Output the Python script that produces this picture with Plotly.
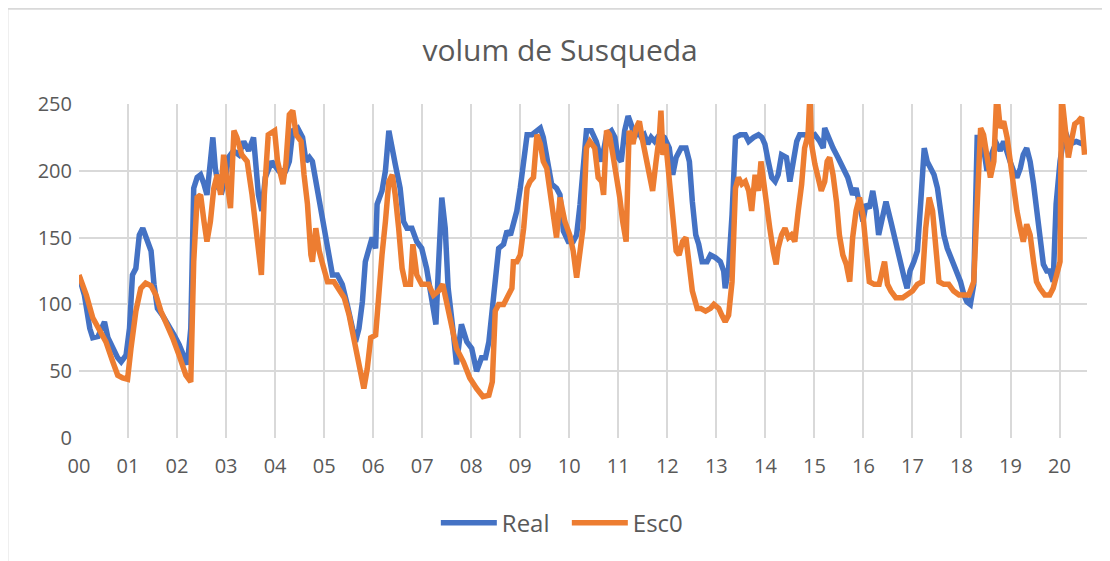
import plotly.graph_objs as go

# time position (tick units) and value for each series
real_t = [0.00, 0.11, 0.22, 0.28, 0.39, 0.52, 0.59, 0.69, 0.79, 0.86, 0.96, 1.03, 1.09, 1.16, 1.23,
          1.30, 1.38, 1.47, 1.53, 1.60, 1.70, 1.84, 1.94, 2.04, 2.14, 2.21, 2.28, 2.34, 2.41, 2.48,
          2.55, 2.61, 2.68, 2.73, 2.78, 2.85, 2.92, 2.99, 3.05, 3.15, 3.26, 3.36, 3.46, 3.56, 3.66,
          3.73, 3.80, 3.93, 4.07, 4.22, 4.29, 4.36, 4.46, 4.56, 4.63, 4.70, 4.76, 4.83, 4.90, 4.97,
          5.03, 5.10, 5.17, 5.27, 5.37, 5.47, 5.57, 5.64, 5.71, 5.78, 5.84, 5.91, 5.98, 6.05, 6.08,
          6.18, 6.25, 6.32, 6.39, 6.45, 6.55, 6.62, 6.69, 6.79, 6.89, 6.99, 7.09, 7.16, 7.23, 7.28,
          7.33, 7.40, 7.47, 7.53, 7.64, 7.70, 7.80, 7.91, 8.01, 8.11, 8.21, 8.29, 8.36, 8.43, 8.49,
          8.56, 8.66, 8.73, 8.80, 8.86, 8.93, 9.00, 9.07, 9.14, 9.24, 9.34, 9.41, 9.47, 9.54, 9.64,
          9.74, 9.81, 9.88, 9.98, 10.08, 10.15, 10.22, 10.30, 10.35, 10.45, 10.55, 10.66, 10.76,
          10.86, 10.93, 10.99, 11.06, 11.13, 11.20, 11.26, 11.33, 11.40, 11.47, 11.53, 11.60, 11.67,
          11.74, 11.84, 11.94, 12.04, 12.11, 12.18, 12.28, 12.38, 12.45, 12.51, 12.58, 12.64, 12.71,
          12.81, 12.88, 12.98, 13.08, 13.15, 13.18, 13.25, 13.32, 13.39, 13.49, 13.59, 13.66, 13.76,
          13.86, 13.93, 13.99, 14.06, 14.13, 14.20, 14.26, 14.33, 14.43, 14.50, 14.57, 14.64, 14.70,
          14.80, 14.91, 15.01, 15.11, 15.18, 15.21, 15.28, 15.38, 15.48, 15.58, 15.68, 15.78, 15.85,
          15.92, 15.99, 16.05, 16.12, 16.19, 16.26, 16.31, 16.39, 16.46, 16.56, 16.63, 16.70, 16.76,
          16.83, 16.89, 16.95, 17.03, 17.10, 17.17, 17.24, 17.30, 17.37, 17.44, 17.51, 17.57, 17.64,
          17.71, 17.81, 17.91, 17.98, 18.05, 18.11, 18.18, 18.25, 18.32, 18.39, 18.45, 18.52, 18.59,
          18.66, 18.72, 18.79, 18.86, 18.93, 18.99, 19.06, 19.13, 19.20, 19.26, 19.33, 19.40, 19.47,
          19.53, 19.60, 19.67, 19.74, 19.80, 19.87, 19.93, 20.01, 20.11, 20.21, 20.34, 20.48]
real_v = [121, 107, 82, 75, 76, 87, 75, 67, 60, 57, 62, 82, 122, 127, 152,
          157, 150, 140, 115, 97, 92, 82, 77, 70, 62, 55, 82, 187, 195, 197,
          190, 182, 207, 225, 202, 187, 185, 195, 210, 215, 212, 222, 215, 225, 182,
          170, 195, 207, 200, 200, 207, 230, 232, 225, 207, 210, 207, 192, 180, 165,
          147, 132, 122, 122, 115, 100, 82, 72, 82, 102, 132, 140, 150, 142, 175,
          185, 200, 230, 215, 205, 187, 162, 157, 157, 147, 142, 127, 112, 95, 85,
          127, 180, 157, 112, 77, 55, 85, 72, 67, 50, 60, 60, 72, 97, 127,
          142, 145, 155, 152, 160, 170, 187, 207, 227, 227, 230, 232, 225, 210, 190,
          187, 182, 155, 147, 147, 152, 175, 207, 230, 230, 222, 207, 227,
          230, 225, 210, 207, 230, 241, 235, 225, 230, 225, 227, 220, 225,
          222, 227, 225, 217, 197, 210, 217, 217, 207, 177, 152, 145, 132,
          132, 137, 135, 132, 125, 112, 127, 167, 225, 227, 227, 222, 225,
          227, 225, 220, 207, 195, 192, 197, 212, 210, 192, 207, 222, 227,
          227, 225, 227, 222, 217, 232, 225, 217, 210, 202, 195, 182, 187,
          175, 162, 175, 172, 185, 170, 152, 167, 177, 162, 150, 140, 130,
          120, 112, 125, 132, 140, 177, 217, 207, 202, 197, 187, 170, 152,
          142, 132, 125, 117, 107, 102, 100, 115, 225, 225, 217, 200, 210,
          217, 220, 215, 222, 212, 207, 200, 195, 202, 212, 217, 207, 190,
          170, 150, 130, 125, 125, 117, 175, 207, 230, 220, 222, 220]

esc_t = [0.00, 0.15, 0.28, 0.42, 0.55, 0.69, 0.79, 0.89, 0.99, 1.06, 1.16, 1.26, 1.36, 1.47, 1.57,
         1.67, 1.77, 1.91, 2.04, 2.18, 2.28, 2.34, 2.41, 2.48, 2.55, 2.61, 2.68, 2.75, 2.82, 2.89,
         2.95, 3.02, 3.09, 3.16, 3.22, 3.32, 3.43, 3.53, 3.63, 3.72, 3.78, 3.86, 3.99, 4.05, 4.16,
         4.22, 4.29, 4.36, 4.43, 4.53, 4.59, 4.66, 4.73, 4.76, 4.83, 4.90, 4.97, 5.07, 5.20, 5.30,
         5.41, 5.51, 5.61, 5.71, 5.81, 5.88, 5.95, 6.05, 6.11, 6.18, 6.25, 6.32, 6.39, 6.45, 6.52,
         6.59, 6.66, 6.76, 6.81, 6.89, 6.99, 7.13, 7.23, 7.33, 7.42, 7.50, 7.60, 7.70, 7.84, 7.97,
         8.11, 8.24, 8.36, 8.43, 8.49, 8.56, 8.66, 8.76, 8.83, 8.86, 8.93, 9.00, 9.07, 9.14, 9.20,
         9.27, 9.34, 9.41, 9.47, 9.54, 9.61, 9.68, 9.74, 9.81, 9.91, 10.01, 10.08, 10.15, 10.22,
         10.28, 10.35, 10.42, 10.52, 10.59, 10.66, 10.70, 10.76, 10.82, 10.89, 10.96, 11.03, 11.09,
         11.16, 11.22, 11.30, 11.36, 11.43, 11.50, 11.57, 11.64, 11.70, 11.77, 11.84, 11.87, 11.91,
         11.97, 12.04, 12.11, 12.18, 12.24, 12.31, 12.38, 12.45, 12.51, 12.61, 12.68, 12.78, 12.88,
         12.95, 13.05, 13.11, 13.18, 13.25, 13.32, 13.39, 13.45, 13.52, 13.59, 13.66, 13.72, 13.79,
         13.86, 13.91, 13.96, 14.03, 14.09, 14.16, 14.22, 14.26, 14.33, 14.40, 14.47, 14.53, 14.60,
         14.67, 14.74, 14.80, 14.87, 14.91, 14.94, 15.01, 15.07, 15.14, 15.21, 15.26, 15.31, 15.38,
         15.45, 15.51, 15.58, 15.65, 15.72, 15.78, 15.85, 15.92, 15.99, 16.05, 16.12, 16.22, 16.32,
         16.43, 16.49, 16.56, 16.66, 16.80, 16.90, 17.00, 17.10, 17.20, 17.27, 17.34, 17.41, 17.47,
         17.54, 17.64, 17.74, 17.84, 17.95, 18.05, 18.15, 18.25, 18.32, 18.39, 18.45, 18.52, 18.59,
         18.66, 18.72, 18.79, 18.86, 18.93, 18.99, 19.06, 19.13, 19.20, 19.26, 19.33, 19.40, 19.47,
         19.53, 19.60, 19.70, 19.80, 19.87, 19.94, 20.01, 20.04, 20.11, 20.18, 20.24, 20.31, 20.38,
         20.45, 20.51]
esc_v = [122, 107, 90, 80, 72, 57, 47, 45, 44, 67, 95, 112, 116, 114, 107,
         95, 87, 75, 62, 47, 42, 132, 180, 182, 162, 147, 162, 187, 197, 182,
         212, 195, 172, 230, 225, 212, 207, 182, 145, 122, 182, 227, 230, 207, 190,
         205, 242, 245, 227, 222, 197, 175, 137, 132, 157, 140, 130, 117, 117, 112,
         105, 92, 72, 52, 37, 52, 75, 77, 107, 137, 162, 192, 197, 182, 157,
         127, 115, 115, 145, 122, 115, 115, 107, 110, 115, 102, 82, 67, 57, 45,
         37, 31, 32, 42, 95, 100, 100, 107, 112, 132, 132, 137, 157, 187, 192,
         195, 227, 220, 207, 202, 182, 167, 150, 180, 162, 152, 140, 120, 140,
         157, 217, 222, 217, 195, 192, 182, 230, 227, 212, 197, 180, 162,
         147, 230, 220, 232, 237, 222, 207, 195, 185, 207, 227, 245, 212,
         220, 195, 170, 140, 137, 147, 150, 132, 110, 97, 97, 95, 97,
         100, 97, 92, 87, 92, 117, 187, 195, 190, 192, 185, 170, 197,
         185, 207, 195, 175, 157, 140, 130, 142, 152, 157, 150, 152, 147,
         170, 190, 217, 227, 258, 220, 205, 197, 185, 192, 207, 210, 197,
         177, 152, 137, 130, 117, 150, 170, 180, 167, 147, 117, 115, 115,
         132, 115, 110, 105, 105, 107, 110, 115, 117, 157, 180, 170, 145,
         117, 115, 115, 110, 107, 107, 107, 117, 182, 232, 227, 207, 195,
         207, 258, 232, 237, 225, 207, 187, 170, 157, 147, 160, 152, 132,
         117, 112, 107, 107, 112, 122, 132, 258, 232, 210, 222, 235, 237,
         240, 212]

tick_vals = list(range(21))
tick_text = ['%02d' % i for i in tick_vals]

text_grey = '#595959'
grid_grey = '#D9D9D9'

fig = go.Figure()
fig.add_trace(go.Scatter(x=real_t, y=real_v, name='Real', mode='lines',
                         line=dict(color='#4472C4', width=5.5)))
fig.add_trace(go.Scatter(x=esc_t, y=esc_v, name='Esc0', mode='lines',
                         line=dict(color='#ED7D31', width=5.5)))

# chart frame (top and left edge, like the excel chart area)
fig.add_shape(type='line', xref='paper', yref='paper', x0=-0.071, x1=1.05, y0=1.285, y1=1.285,
              line=dict(color=grid_grey, width=2))
fig.add_shape(type='line', xref='paper', yref='paper', x0=-0.071, x1=-0.071, y0=1.285, y1=-0.4,
              line=dict(color=grid_grey, width=2))

# the page body adds an 8px offset, so the figure is 8px smaller than the window
fig.update_layout(
    width=1102, height=553,
    margin=dict(l=71, r=23, t=96, b=123),
    paper_bgcolor='white', plot_bgcolor='white',
    font=dict(family='Open Sans', color=text_grey, size=19),
    title=dict(text='volum de Susqueda', x=0.501, xanchor='center', y=0.923, yanchor='middle',
               font=dict(size=30, color=text_grey)),
    showlegend=True,
    legend=dict(orientation='h', x=0.354, xanchor='left', y=-0.255, yanchor='middle',
                font=dict(size=24, color=text_grey), itemwidth=56,
                entrywidth=60, entrywidthmode='pixels'),
    xaxis=dict(range=[0, 20.56], tickmode='array', tickvals=tick_vals, ticktext=tick_text,
               showgrid=True, gridcolor=grid_grey, gridwidth=2, zeroline=False,
               showline=False, ticks='', ticklabelstandoff=14,
               tickfont=dict(size=20, color=text_grey)),
    yaxis=dict(range=[0, 250], dtick=50, showgrid=True, gridcolor=grid_grey, gridwidth=2,
               zeroline=False, showline=False, ticks='', ticklabelstandoff=6,
               tickfont=dict(size=20, color=text_grey)),
)

fig.write_html("out.html")
